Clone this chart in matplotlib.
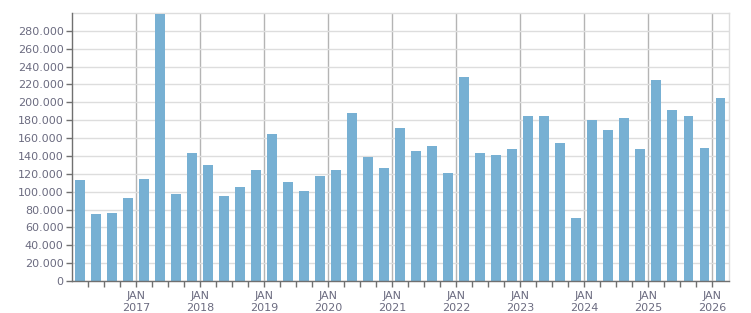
import matplotlib
matplotlib.use("Agg")
import matplotlib.pyplot as plt
from matplotlib.ticker import FixedLocator

# Quarterly values, Q1 2016 .. Q1 2026
quarters = [f"{y}Q{q}" for y in range(2016, 2027) for q in range(1, 5)][:41]
values = [113000, 75000, 76000, 93000,
          114000, 299000, 97000, 143000,
          130000, 95000, 105000, 124000,
          165000, 111000, 101000, 118000,
          124000, 188000, 139000, 127000,
          171000, 146000, 151000, 121000,
          228000, 143000, 141000, 148000,
          185000, 185000, 155000, 71000,
          180000, 169000, 183000, 148000,
          225000, 191000, 185000, 149000,
          205000]
years = list(range(2017, 2027))
ytick_vals = list(range(0, 300000, 20000))
ytick_labels = ["0" if v == 0 else f"{v//1000}.000" for v in ytick_vals]

bar_color = "#77b0d3"
text_color = "#6b6b80"

fig = plt.figure(figsize=(7.51, 3.13), dpi=100)
ax = fig.add_axes([72/751, 1-281/313, (728.5-72)/751, (281-13)/313])

x = [i + 0.5 for i in range(len(values))]
ax.bar(x, values, width=0.62, color=bar_color, zorder=3)

ax.set_xlim(0, len(values))
ax.set_ylim(0, 300000)

ax.set_yticks(ytick_vals)
ax.set_yticklabels(ytick_labels)
major_x = [4 * (y - 2016) for y in years]
ax.set_xticks(major_x)
ax.set_xticklabels([f"JAN\n{y}" for y in years])
ax.xaxis.set_minor_locator(FixedLocator([i for i in range(1, len(values)) if i % 4 != 0]))

ax.grid(axis="y", color="#dddddd", linewidth=1, zorder=0)
ax.grid(axis="x", which="major", color="#b4b4b4", linewidth=1, zorder=1)

for s in ["top", "right"]:
    ax.spines[s].set_color("#dddddd")
    ax.spines[s].set_linewidth(1)
for s in ["left", "bottom"]:
    ax.spines[s].set_color("#707070")
    ax.spines[s].set_linewidth(1)
    ax.spines[s].set_zorder(4)

ax.tick_params(axis="both", which="both", direction="out", length=4, width=1,
               color="#707070", labelcolor=text_color, labelsize=8)
ax.tick_params(axis="x", which="major", pad=3)
ax.tick_params(axis="y", pad=2)
for lab in ax.get_xticklabels():
    lab.set_linespacing(1.3)

fig.savefig("out.png", dpi=100)
